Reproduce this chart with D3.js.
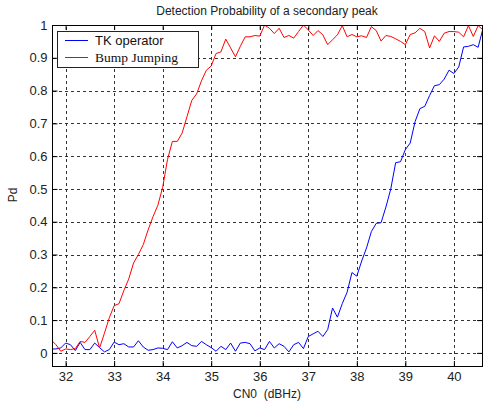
<!DOCTYPE html>
<html><head><meta charset="utf-8">
<script src="https://cdn.jsdelivr.net/npm/d3@7/dist/d3.min.js"></script>
<style>
html,body{margin:0;padding:0;background:#fff;}
svg{display:block;}
</style></head>
<body>
<script>
const title = "Detection Probability of a secondary peak";
const xLabel = "CN0\u00A0 (dBHz)";
const yLabel = "Pd";
const seriesNames = ["TK operator", "Bump Jumping"];
const seriesColors = ["#0000ff", "#ff0000"];
const xTicks = [32, 33, 34, 35, 36, 37, 38, 39, 40];
const yTicks = [0, 0.1, 0.2, 0.3, 0.4, 0.5, 0.6, 0.7, 0.8, 0.9, 1];
const yTickLabels = ["0", "0.1", "0.2", "0.3", "0.4", "0.5", "0.6", "0.7", "0.8", "0.9", "1"];
const xDomain = [31.73, 40.6];
const yDomain = [-0.04, 1];

const cn0 = [31.7,31.8,31.9,32.0,32.1,32.2,32.3,32.4,32.5,32.6,32.7,32.8,32.9,33.0,33.1,33.2,33.3,33.4,33.5,33.6,
  33.7,33.8,33.9,34.0,34.1,34.2,34.3,34.4,34.5,34.6,34.7,34.8,34.9,35.0,35.1,35.2,35.3,35.4,35.5,35.6,
  35.7,35.8,35.9,36.0,36.1,36.2,36.3,36.4,36.5,36.6,36.7,36.8,36.9,37.0,37.1,37.2,37.3,37.4,37.5,37.6,
  37.7,37.8,37.9,38.0,38.1,38.2,38.3,38.4,38.5,38.6,38.7,38.8,38.9,39.0,39.1,39.2,39.3,39.4,39.5,39.6,
  39.7,39.8,39.9,40.0,40.1,40.2,40.3,40.4,40.5,40.6];

const tkOperator = [0.012,0.012,0.015,0.030,0.025,0.007,0.032,0.010,0.010,0.030,
  0.016,0.003,0.010,0.033,0.025,0.028,0.018,0.018,0.037,0.018,
  0.008,0.010,0.015,0.014,0.010,0.034,0.015,0.022,0.032,0.022,
  0.020,0.035,0.025,0.016,0.005,0.020,0.010,0.030,0.005,0.030,
  0.032,0.028,0.006,0.015,0.010,0.035,0.015,0.028,0.020,0.003,
  0.025,0.032,0.013,0.050,0.058,0.066,0.050,0.071,0.137,0.109,
  0.150,0.185,0.245,0.234,0.280,0.320,0.370,0.395,0.397,0.445,
  0.500,0.580,0.583,0.620,0.640,0.705,0.745,0.752,0.785,0.815,
  0.818,0.835,0.862,0.852,0.872,0.933,0.935,0.940,0.932,0.990];

const bumpJumping = [0.040,0.025,0.005,0.012,0.010,0.013,0.035,0.032,0.050,0.069,
  0.015,0.060,0.107,0.144,0.150,0.190,0.225,0.274,0.300,0.330,
  0.375,0.415,0.450,0.505,0.590,0.645,0.645,0.670,0.720,0.770,
  0.790,0.830,0.862,0.875,0.913,0.918,0.957,0.930,0.903,0.935,
  0.964,0.964,0.968,0.966,1.000,0.990,0.974,0.990,0.962,0.968,
  0.960,0.980,1.000,0.985,0.968,0.983,0.970,0.940,0.955,0.970,
  0.998,0.964,0.971,0.964,0.967,0.962,0.995,0.983,0.951,0.968,
  0.965,0.958,0.950,0.940,0.971,0.976,0.990,0.980,0.930,0.967,
  0.950,0.975,0.980,0.980,0.978,0.964,0.998,0.965,0.998,0.985];

const W = 484, H = 409;
const plot = {left: 52.5, right: 483, top: 25, bottom: 366};

const svg = d3.select("body").append("svg").attr("width", W).attr("height", H)
  .style("font-family", "Arial, 'Liberation Sans', sans-serif");

const x = d3.scaleLinear().domain(xDomain).range([plot.left, plot.right]);
const y = d3.scaleLinear().domain(yDomain).range([plot.bottom, plot.top]);

svg.append("defs").append("clipPath").attr("id", "clip").append("rect")
  .attr("x", plot.left).attr("y", plot.top)
  .attr("width", plot.right - plot.left).attr("height", plot.bottom - plot.top);

// gridlines
const grid = svg.append("g").attr("stroke", "#333").attr("stroke-width", 1)
  .attr("stroke-dasharray", "3,3").attr("shape-rendering", "crispEdges");
grid.selectAll("line.v").data(xTicks).join("line").attr("class", "v")
  .attr("x1", d => Math.round(x(d)) + 0.5).attr("x2", d => Math.round(x(d)) + 0.5)
  .attr("y1", plot.bottom).attr("y2", plot.top);
grid.selectAll("line.h").data(yTicks).join("line").attr("class", "h")
  .attr("y1", d => Math.round(y(d)) + 0.5).attr("y2", d => Math.round(y(d)) + 0.5)
  .attr("x1", plot.left).attr("x2", plot.right);

// axes (ticks inward)
const tickLen = 5;
const xAxisB = d3.axisBottom(x).tickValues(xTicks).tickSizeInner(-tickLen).tickSizeOuter(0).tickPadding(6).tickFormat(d3.format("d"));
const xAxisT = d3.axisTop(x).tickValues(xTicks).tickSizeInner(-tickLen).tickSizeOuter(0).tickFormat("");
const yAxisL = d3.axisLeft(y).tickValues(yTicks).tickSizeInner(-tickLen).tickSizeOuter(0).tickPadding(5)
  .tickFormat((d, i) => yTickLabels[i]);
const yAxisR = d3.axisRight(y).tickValues(yTicks).tickSizeInner(-tickLen).tickSizeOuter(0).tickFormat("");

function styleAxis(g) {
  g.select(".domain").remove();
  g.selectAll(".tick line").attr("stroke", "#000");
  g.selectAll(".tick text").attr("fill", "#222").style("font-size", "13px")
    .style("font-family", "Arial, 'Liberation Sans', sans-serif");
}
svg.append("g").attr("transform", `translate(0,${plot.bottom})`).call(xAxisB).call(styleAxis);
svg.append("g").attr("transform", `translate(0,${plot.top})`).call(xAxisT).call(styleAxis);
svg.append("g").attr("transform", `translate(${plot.left},0)`).call(yAxisL).call(styleAxis);
svg.append("g").attr("transform", `translate(${plot.right - 1},0)`).call(yAxisR).call(styleAxis);

// series
const line = d3.line().x((d, i) => x(cn0[i])).y(d => y(d));
const lines = svg.append("g").attr("clip-path", "url(#clip)");
[tkOperator, bumpJumping].forEach((s, k) => {
  lines.append("path").datum(s).attr("d", line).attr("fill", "none")
    .attr("stroke", seriesColors[k]).attr("stroke-width", 1);
});

// frame
svg.append("rect").attr("x", plot.left).attr("y", plot.top + 0.5)
  .attr("width", plot.right - plot.left - 1).attr("height", plot.bottom - plot.top)
  .attr("fill", "none").attr("stroke", "#000").attr("stroke-width", 1).attr("shape-rendering", "crispEdges");

// title & labels
svg.append("text").attr("x", 267).attr("y", 15).attr("text-anchor", "middle")
  .style("font-size", "12px").attr("fill", "#222").text(title);
svg.append("text").attr("x", 267).attr("y", 398).attr("text-anchor", "middle")
  .style("font-size", "12px").attr("fill", "#222").text(xLabel);
svg.append("text").attr("transform", "translate(17,195) rotate(-90)").attr("text-anchor", "middle")
  .style("font-size", "12px").attr("fill", "#222").text(yLabel);

// legend
const leg = svg.append("g");
leg.append("rect").attr("x", 57.5).attr("y", 31.5).attr("width", 141).attr("height", 36)
  .attr("fill", "#fff").attr("stroke", "#222").attr("stroke-width", 1);
const legFonts = ["Arial, 'Liberation Sans', sans-serif", "'Times New Roman', 'Liberation Serif', serif"];
const legSizes = ["13px", "13.5px"];
const legY = [40.5, 57.5];
seriesNames.forEach((n, k) => {
  leg.append("line").attr("x1", 65).attr("x2", 88).attr("y1", legY[k]).attr("y2", legY[k])
    .attr("stroke", seriesColors[k]).attr("stroke-width", 1);
  leg.append("text").attr("x", 95).attr("y", legY[k] + 4.5).style("font-family", legFonts[k])
    .style("font-size", legSizes[k]).attr("fill", "#111").text(n);
});
</script>
</body></html>
